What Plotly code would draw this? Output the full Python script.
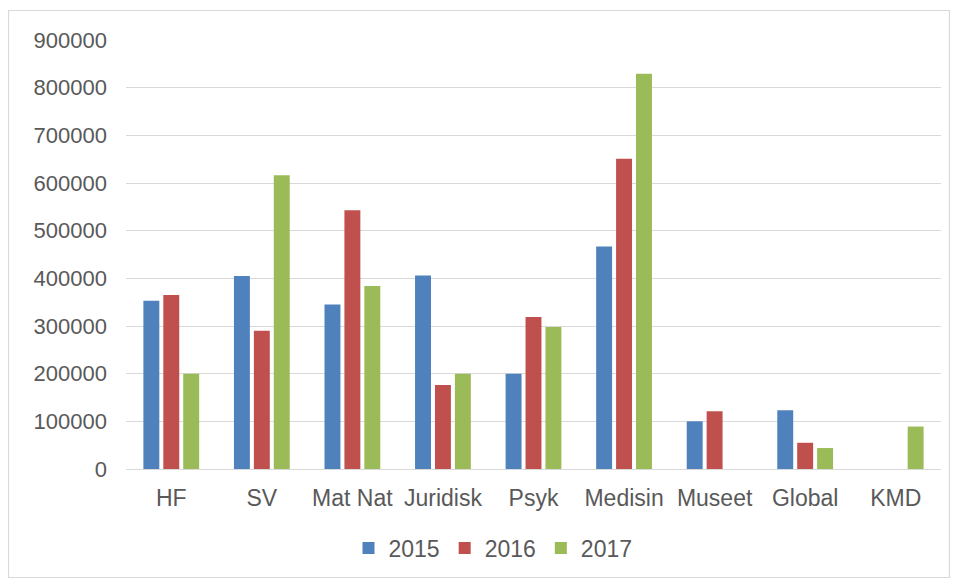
import plotly.graph_objects as go

categories = ["HF", "SV", "Mat Nat", "Juridisk", "Psyk", "Medisin", "Museet", "Global", "KMD"]
v2015 = [353000, 405000, 345000, 406000, 200000, 467000, 100000, 123000, None]
v2016 = [365000, 290000, 543000, 176000, 319000, 651000, 121000, 55000, None]
v2017 = [200000, 616000, 384000, 200000, 298000, 829000, None, 44000, 89000]
series_names = ["2015", "2016", "2017"]
colors = ["#4F81BD", "#C0504D", "#9BBB59"]
y_ticks = [0, 100000, 200000, 300000, 400000, 500000, 600000, 700000, 800000, 900000]

fig = go.Figure()
for name, vals, col in zip(series_names, [v2015, v2016, v2017], colors):
    fig.add_trace(go.Bar(x=categories, y=vals, name=name,
                         marker=dict(color=col, line=dict(width=0))))

OFF = 8  # page body margin
W, H = 959 - OFF, 581 - OFF
# plot area in window pixels: x 126..941, y 40..469
ml, mt = 126 - OFF, 40 - OFF
pw, ph = 815, 429
mr = W - ml - pw
mb = H - mt - ph

def px(x):
    return (x - OFF - ml) / pw

def py(y):
    return (mt + ph - (y - OFF)) / ph

fig.update_layout(
    width=W, height=H,
    margin=dict(l=ml, r=mr, t=mt, b=mb, autoexpand=False),
    paper_bgcolor="white", plot_bgcolor="white",
    font=dict(family="Liberation Sans, Arial, sans-serif", size=22, color="#595959"),
    barmode="group", bargap=0.34, bargroupgap=0.2,
    showlegend=True,
    legend=dict(orientation="h", x=px(493), xanchor="center", y=py(548), yanchor="middle",
                font=dict(size=23, color="#595959"), itemwidth=30, traceorder="normal"),
    shapes=[dict(type="rect", xref="paper", yref="paper",
                 x0=px(8.5), x1=px(949.5), y0=py(577.5), y1=py(10.5),
                 line=dict(color="#D9D9D9", width=1.2), fillcolor="rgba(0,0,0,0)", layer="below")],
)
fig.update_yaxes(range=[0, 900000], tickvals=y_ticks, ticktext=[str(v) for v in y_ticks],
                 showgrid=True, gridcolor="#D9D9D9", gridwidth=1.3,
                 zeroline=False, showline=False, ticks="", ticklabelstandoff=18,
                 tickfont=dict(size=22), fixedrange=True)
fig.update_xaxes(showline=True, linecolor="#D9D9D9", linewidth=1.3, ticks="",
                 ticklabelstandoff=8, tickfont=dict(size=23), fixedrange=True)

fig.write_html("out.html")
